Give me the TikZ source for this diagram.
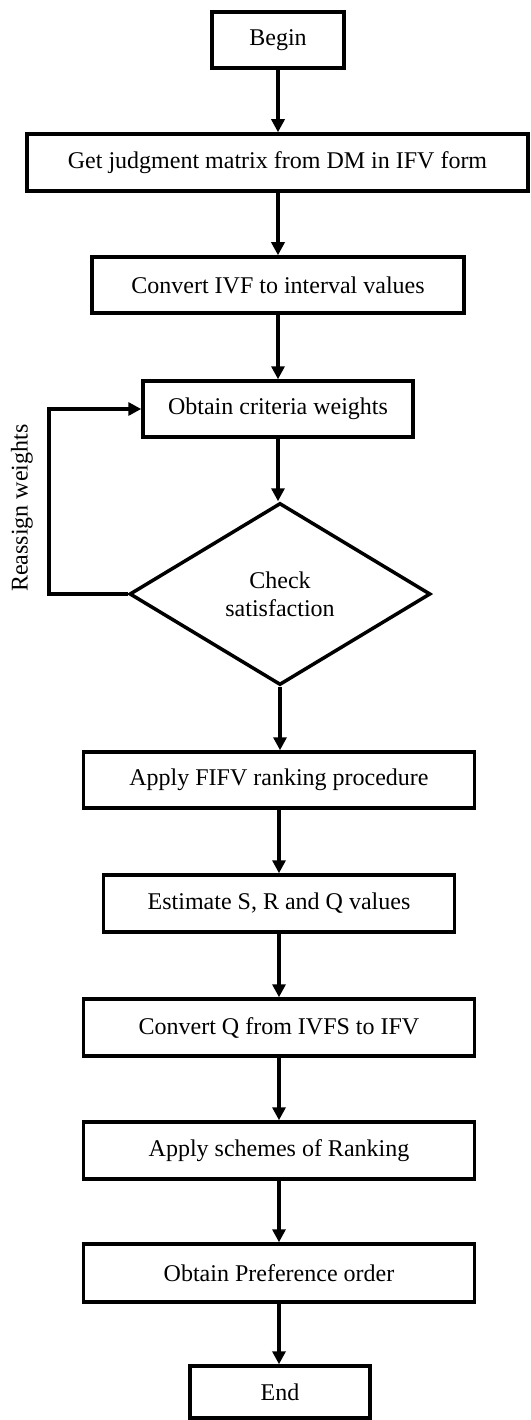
\documentclass[tikz,border=0pt]{standalone}
\usepackage{fontspec}
\setmainfont{Liberation Serif}
\usetikzlibrary{shapes.geometric,arrows.meta}
\begin{document}
\begin{tikzpicture}[x=1pt,y=1pt,
  box/.style={draw,line width=3.5pt,rectangle,inner sep=0pt,minimum height=56pt,align=center,font=\fontsize{24}{28}\selectfont},
  decision/.style={draw,line width=3.5pt,diamond,inner sep=0pt,minimum width=301pt,minimum height=182pt,align=center,font=\fontsize{24}{28}\selectfont},
  flow/.style={line width=3.5pt,-{Triangle[length=13pt,width=13pt]}},
  lbl/.style={font=\fontsize{24}{28}\selectfont}]
\useasboundingbox (0,0) rectangle (530,-1420);
\node[box,minimum width=132pt] (begin) at (278,-40) {Begin};
\node[box,minimum width=501pt,minimum height=57pt] (get) at (277.5,-162.5) {Get judgment matrix from DM in IFV form};
\node[box,minimum width=372pt] (conv) at (278,-285) {Convert IVF to interval values};
\node[box,minimum width=270pt] (obtain) at (278,-409) {Obtain criteria weights};
\node[decision] (chk) at (280,-594) {Check\\satisfaction};
\node[box,minimum width=391pt] (apply) at (279,-780) {Apply FIFV ranking procedure};
\node[box,minimum width=351pt,minimum height=57pt] (est) at (279,-903.5) {Estimate S, R and Q values};
\node[box,minimum width=391pt,minimum height=57pt] (convq) at (279,-1027.5) {Convert Q from IVFS to IFV};
\node[box,minimum width=391pt,minimum height=57pt] (scheme) at (279,-1150.5) {Apply schemes of Ranking};
\node[box,minimum width=391pt,minimum height=58pt] (pref) at (279,-1273) {Obtain Preference order};
\node[box,minimum width=180pt,minimum height=52pt] (end) at (280,-1392) {End};
\coordinate (fb) at (49,-594);
\node[lbl,rotate=90] (reassign) at (22,-508) {Reassign weights};
\draw[flow] (begin.south) -- (begin.south |- get.north);
\draw[flow] (begin.south |- get.south) -- (begin.south |- conv.north);
\draw[flow] (conv.south) -- (conv.south |- obtain.north);
\draw[flow] (obtain.south) -- (obtain.south |- chk.north);
\draw[flow] (chk.south) -- (chk.south |- apply.north);
\draw[flow] (apply.south) -- (apply.south |- est.north);
\draw[flow] (est.south) -- (est.south |- convq.north);
\draw[flow] (convq.south) -- (convq.south |- scheme.north);
\draw[flow] (scheme.south) -- (scheme.south |- pref.north);
\draw[flow] (pref.south) -- (pref.south |- end.north);
\draw[flow] (chk.west) -- (fb) |- (obtain.west);
\end{tikzpicture}
\end{document}
